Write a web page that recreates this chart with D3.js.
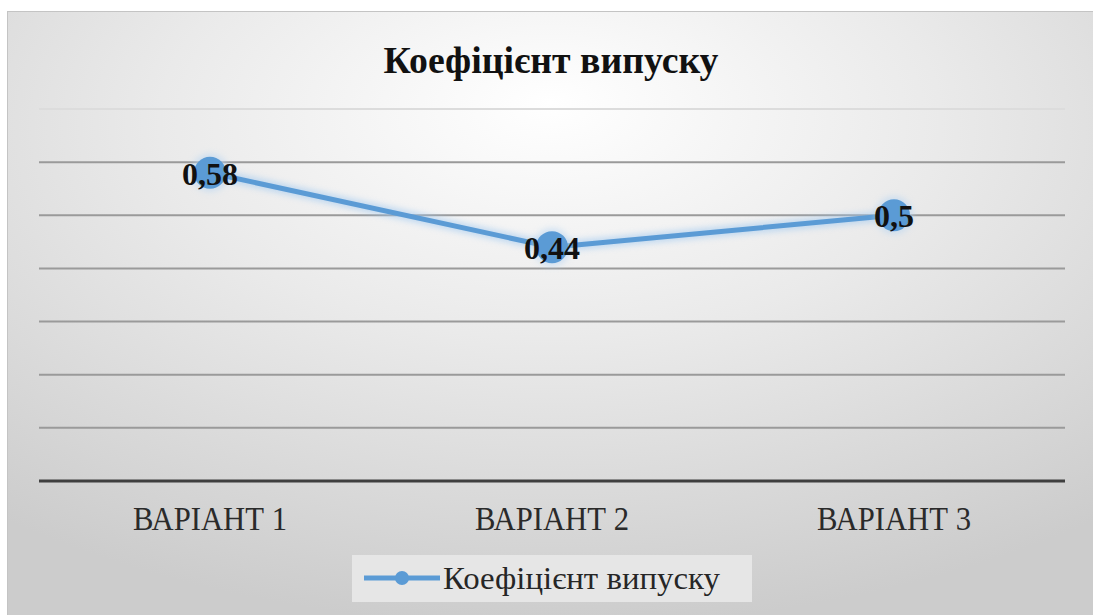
<!DOCTYPE html>
<html>
<head>
<meta charset="utf-8">
<script src="https://cdn.jsdelivr.net/npm/d3@7"></script>
</head>
<body style="margin:0">
<svg id="chart" width="1093" height="615" style="font-family: 'Liberation Serif'"></svg>
<script>
// Chart data
const categories = ["ВАРІАНТ 1", "ВАРІАНТ 2", "ВАРІАНТ 3"];
const values = [0.58, 0.44, 0.5];
const valueLabels = ["0,58", "0,44", "0,5"];
const gridTicks = [0.1, 0.2, 0.3, 0.4, 0.5, 0.6, 0.7];
const seriesName = "Коефіцієнт випуску";
const chartTitle = "Коефіцієнт випуску";

const FONT = '"Liberation Serif"';
const W = 1093, H = 615;
const svg = d3.select("#chart");
const defs = svg.append("defs");

// Soft radial shading of the chart area
const bg = defs.append("radialGradient")
  .attr("id", "bgGrad")
  .attr("cx", "50%").attr("cy", "22%").attr("r", "80%")
  .attr("fx", "50%").attr("fy", "15%");
bg.append("stop").attr("offset", "0%").attr("stop-color", "#ffffff");
bg.append("stop").attr("offset", "45%").attr("stop-color", "#eaeaea");
bg.append("stop").attr("offset", "100%").attr("stop-color", "#cccccc");

const glow = defs.append("filter").attr("id", "glow")
  .attr("x", "-20%").attr("y", "-50%").attr("width", "140%").attr("height", "200%");
glow.append("feGaussianBlur").attr("stdDeviation", 3);

// Chart area
svg.append("rect")
  .attr("x", 7).attr("y", 11).attr("width", W - 7).attr("height", H - 11)
  .attr("fill", "#c4c4c4");
svg.append("rect")
  .attr("x", 8).attr("y", 12).attr("width", W - 8).attr("height", H - 12)
  .attr("fill", "url(#bgGrad)");

// Plot area and scales
const plot = { left: 39, right: 1065, top: 109, bottom: 481 };
const x = d3.scalePoint().domain(categories).range([plot.left, plot.right]).padding(0.5);
const y = d3.scaleLinear().domain([0, 0.7]).range([plot.bottom, plot.top]);

// Horizontal gridlines
svg.append("g").selectAll("line").data(gridTicks).join("line")
  .attr("x1", plot.left).attr("x2", plot.right)
  .attr("y1", d => y(d)).attr("y2", d => y(d))
  .attr("stroke", d => d >= 0.7 ? "#dcdcdc" : "#9a9a9a")
  .attr("stroke-width", 2);

// Category axis line
svg.append("line")
  .attr("x1", plot.left).attr("x2", plot.right)
  .attr("y1", y(0)).attr("y2", y(0))
  .attr("stroke", "#3f3f3f").attr("stroke-width", 3);

// Category labels
svg.append("g").selectAll("text").data(categories).join("text")
  .attr("x", d => x(d)).attr("y", y(0) + 49)
  .attr("text-anchor", "middle")
  .style("font-family", FONT)
  .attr("font-size", 33)
  .attr("textLength", 154).attr("lengthAdjust", "spacingAndGlyphs")
  .attr("fill", "#2a2a2a")
  .text(d => d);

// Series line
const pts = categories.map((c, i) => ({ c, v: values[i], label: valueLabels[i] }));
const line = d3.line().x(d => x(d.c)).y(d => y(d.v));
svg.append("path").datum(pts).attr("d", line)
  .attr("fill", "none").attr("stroke", "#9fc8f0").attr("stroke-width", 10)
  .attr("opacity", 0.6).attr("filter", "url(#glow)");
svg.append("path").datum(pts).attr("d", line)
  .attr("fill", "none").attr("stroke", "#5b9bd5").attr("stroke-width", 5)
  .attr("stroke-linejoin", "round");

// Markers
svg.selectAll("circle.halo").data(pts).join("circle").attr("class", "halo")
  .attr("cx", d => x(d.c)).attr("cy", d => y(d.v)).attr("r", 19)
  .attr("fill", "#b9d6f2").attr("opacity", 0.6).attr("filter", "url(#glow)");
svg.selectAll("circle.pt").data(pts).join("circle").attr("class", "pt")
  .attr("cx", d => x(d.c)).attr("cy", d => y(d.v)).attr("r", 16)
  .attr("fill", "#5b9bd5");

// Value labels
svg.selectAll("text.val").data(pts).join("text").attr("class", "val")
  .attr("x", d => x(d.c)).attr("y", d => y(d.v) + 12)
  .attr("text-anchor", "middle")
  .style("font-family", FONT)
  .attr("font-weight", "bold")
  .attr("font-size", 32)
  .attr("fill", "#111111")
  .text(d => d.label);

// Title
svg.append("text")
  .attr("x", 551).attr("y", 73)
  .attr("text-anchor", "middle")
  .style("font-family", FONT)
  .attr("font-weight", "bold")
  .attr("font-size", 37)
  .attr("textLength", 335).attr("lengthAdjust", "spacingAndGlyphs")
  .attr("fill", "#111111")
  .text(chartTitle);

// Legend
const lg = svg.append("g");
lg.append("rect").attr("x", 352).attr("y", 555).attr("width", 400).attr("height", 47)
  .attr("fill", "#e6e6e6");
lg.append("line").attr("x1", 364).attr("x2", 440).attr("y1", 578).attr("y2", 578)
  .attr("stroke", "#5b9bd5").attr("stroke-width", 5);
lg.append("circle").attr("cx", 402).attr("cy", 578).attr("r", 7).attr("fill", "#5b9bd5");
lg.append("text")
  .attr("x", 443).attr("y", 589)
  .style("font-family", FONT)
  .attr("font-size", 32)
  .attr("textLength", 277).attr("lengthAdjust", "spacingAndGlyphs")
  .attr("fill", "#262626")
  .text(seriesName);
</script>
</body>
</html>
